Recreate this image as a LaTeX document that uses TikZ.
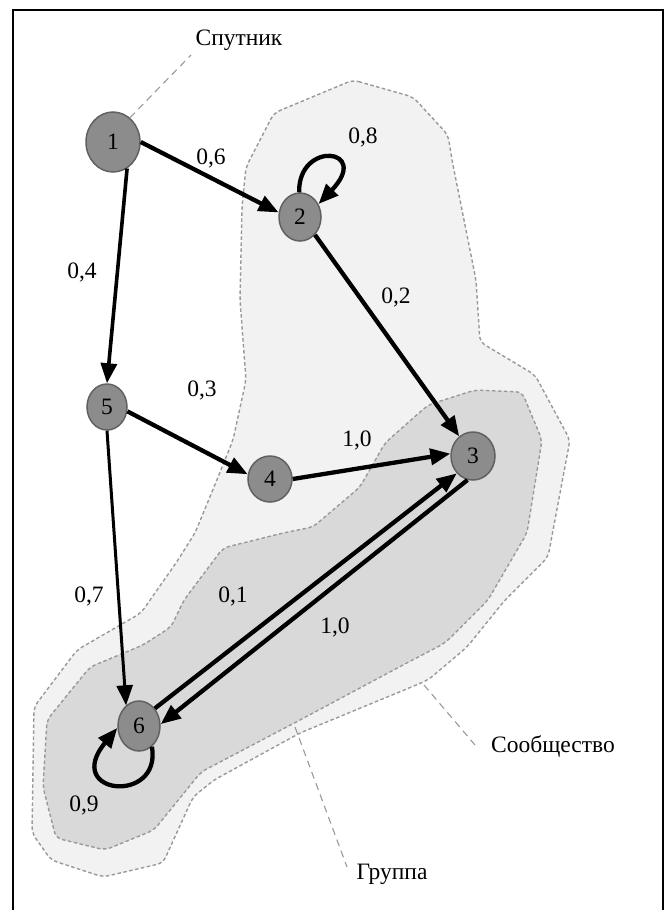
\documentclass[tikz,border=0pt]{standalone}
\usepackage{fontspec}
\setmainfont{Liberation Serif}
\usetikzlibrary{shapes.geometric,arrows.meta}
\begin{document}
\begin{tikzpicture}[x=1pt,y=-1pt,
  vtx/.style={ellipse,draw=black!62,line width=1.5pt,fill=black!45,inner sep=0pt,minimum width=42pt,minimum height=48pt,font=\fontsize{23.5}{27}\selectfont},
  lbl/.style={font=\fontsize{23.5}{27}\selectfont,inner sep=0pt},
  edge/.style={line width=4.3pt,-{Triangle[length=20pt,width=16pt]}},
  lead/.style={draw=black!40,line width=1.1pt,dash pattern=on 7pt off 5pt},
  region/.style={draw=black!40,line width=1.4pt,dash pattern=on 3.5pt off 2.5pt,rounded corners=6pt}
]
\useasboundingbox (0,0) rectangle (668,910);
% outer region (community)
\path[region,fill=black!5] (353,80) -- (413,97) -- (448,135) -- (452,160) -- (462,210) -- (476,280) -- (480,342) -- (535,375) -- (570,440) -- (548,557) -- (505,600) -- (467,647) -- (428,680) -- (409,688) -- (300,733) -- (214,780) -- (193,797) -- (163,863) -- (103,877) -- (51,860) -- (32,833) -- (34,707) -- (77,650) -- (141,613) -- (176,563) -- (195,533) -- (214,487) -- (233,440) -- (246,380) -- (240,300) -- (242,207) -- (246,167) -- (274,113) -- cycle;
% inner region (group)
\path[region,fill=black!15] (428,405) -- (475,390) -- (522,392) -- (542,440) -- (527,533) -- (488,600) -- (445,643) -- (403,665) -- (300,720) -- (201,772) -- (154,830) -- (105,850) -- (56,838) -- (43,787) -- (47,720) -- (90,667) -- (143,645) -- (171,627) -- (184,600) -- (223,548) -- (283,533) -- (313,527) -- (360,487) -- (385,443) -- cycle;
% frame
\draw[line width=2.6pt] (13,915) -- (13,10) -- (663,10) -- (663,915);
% vertices
\node[vtx,minimum width=54pt,minimum height=60pt] (n1) at (113,142) {1};
\node[vtx] (n2) at (300,217) {2};
\node[vtx,minimum width=44pt] (n3) at (473,456) {3};
\node[vtx,minimum width=44pt,minimum height=46pt] (n4) at (270,479) {4};
\node[vtx,minimum width=40pt,minimum height=46pt] (n5) at (107,407) {5};
\node[vtx,minimum height=50pt] (n6) at (139,726) {6};
% labels
\node[lbl] (sput) at (239,40) {Спутник};
\node[lbl] (soob) at (553,747) {Сообщество};
\node[lbl] (grup) at (392,874) {Группа};
\node[lbl] (l12) at (211,158) {0,6};
\node[lbl] (l22) at (363,137) {0,8};
\node[lbl] (l15) at (82,272) {0,4};
\node[lbl] (l23) at (396,297) {0,2};
\node[lbl] (l54) at (202,390) {0,3};
\node[lbl] (l43) at (357,440) {1,0};
\node[lbl] (l63) at (233,596) {0,1};
\node[lbl] (l36) at (335,627) {1,0};
\node[lbl] (l56) at (89,596) {0,7};
\node[lbl] (l66) at (84,805) {0,9};
% leaders
\coordinate (csput) at (191,55);
\coordinate (csoob1) at (424,685);
\coordinate (csoob2) at (475,745);
\coordinate (cgrup1) at (295,727);
\coordinate (cgrup2) at (347,867);
\draw[lead] (n1.55) -- (csput);
\draw[lead] (csoob1) -- (csoob2);
\draw[lead] (cgrup1) -- (cgrup2);
% edges
\draw[edge] (n1.east) -- (n2.168);
\draw[edge,line width=3.6pt] (n1.-62) -- (n5.north);
\draw[edge] (n2.-50) -- (n3.125);
\draw[edge] (n5.-12) -- (n4.168);
\draw[edge] (n4.east) -- (n3.174);
\draw[edge,line width=3pt] (n5.south) -- (n6.122);
\draw[edge] (n6.48) -- (n3.-133);
\draw[edge] (n3.-103) -- (n6.5);
\draw[edge] (n2.92) .. controls (298,140) and (372,148) .. (n2.35);
\draw[edge] (n6.-58) .. controls (162,805) and (62,795) .. (n6.185);
\end{tikzpicture}
\end{document}
